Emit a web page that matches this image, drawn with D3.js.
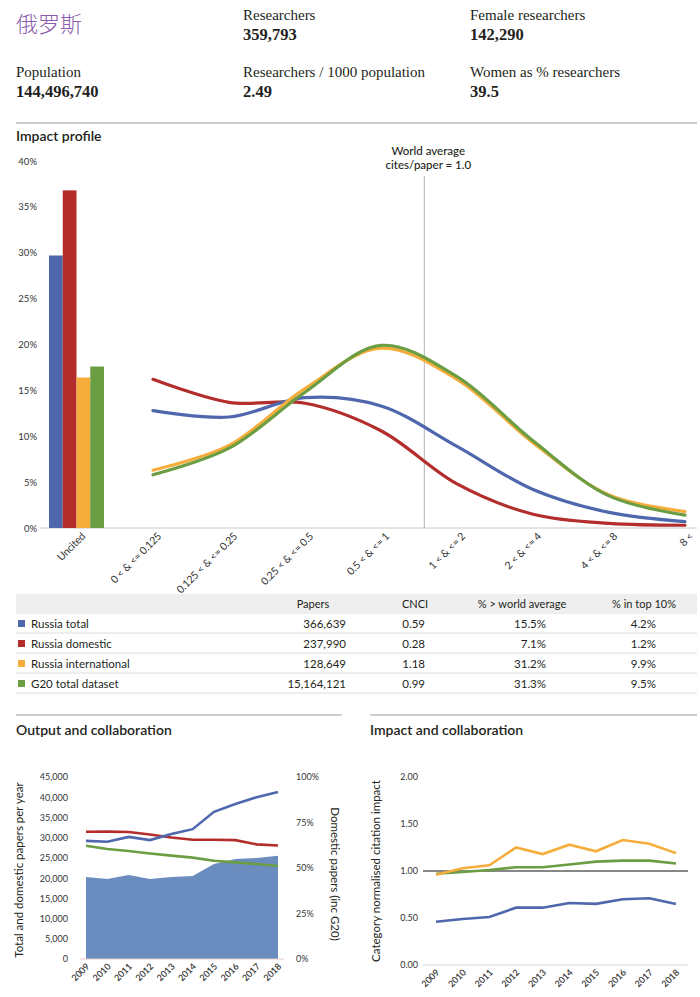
<!DOCTYPE html>
<html>
<head>
<meta charset="utf-8">
<script src="https://cdn.jsdelivr.net/npm/d3@7"></script>
<style>
  body { margin: 0; background: #fff; }
  svg text { font-family: Lato, "Open Sans", sans-serif; fill: #231f20; }
  .serif { font-family: "Liberation Serif", "Times New Roman", serif; }
</style>
</head>
<body>
<div id="chart"></div>
<script>
// header facts
const country = '俄罗斯'
const facts = [
  ['Researchers', '359,793'], ['Female researchers', '142,290'],
  ['Population', '144,496,740'], ['Researchers / 1000 population', '2.49'], ['Women as % researchers', '39.5']
]

const seriesNames = ['Russia total', 'Russia domestic', 'Russia international', 'G20 total dataset']
const colors = ['#4f67ad', '#b22d2b', '#f6ad3b', '#6b9d42']

// impact profile (% of papers per CNCI band)
const impactCats = ['Uncited', '0 < & <= 0.125', '0.125 < & <= 0.25', '0.25 < & <= 0.5', '0.5 < & <= 1',
  '1 < & <= 2', '2 < & <= 4', '4 < & <= 8', '8 <']
const uncited = [29.7, 36.8, 16.4, 17.6]
const profileTotal = [12.8, 12.1, 14.2, 13.3, 8.9, 4.2, 1.7, 0.7]
const profileDomestic = [16.2, 13.7, 13.6, 10.6, 4.8, 1.5, 0.5, 0.3]
const profileIntl = [6.3, 9.0, 15.2, 19.6, 16.2, 9.3, 3.6, 1.8]
const profileG20 = [5.8, 8.7, 14.8, 19.9, 16.5, 9.5, 3.5, 1.4]
const profileTicks = [0, 5, 10, 15, 20, 25, 30, 35, 40]

// summary table
const tableHead = ['Papers', 'CNCI', '% > world average', '% in top 10%']
const papers = ['366,639', '237,990', '128,649', '15,164,121']
const cnci = ['0.59', '0.28', '1.18', '0.99']
const aboveWorld = ['15.5%', '7.1%', '31.2%', '31.3%']
const top10 = ['4.2%', '1.2%', '9.9%', '9.5%']

// output and collaboration
const years = [2009, 2010, 2011, 2012, 2013, 2014, 2015, 2016, 2017, 2018]
const totalPapers = [29200, 29000, 30200, 29400, 30900, 32100, 36400, 38300, 40000, 41300]
const domesticPapers = [20300, 19800, 20800, 19800, 20300, 20500, 23500, 24700, 25000, 25500]
const domesticShare = [0.699, 0.700, 0.698, 0.684, 0.668, 0.655, 0.655, 0.653, 0.630, 0.624]
const g20DomesticShare = [0.622, 0.604, 0.593, 0.580, 0.568, 0.557, 0.540, 0.531, 0.522, 0.511]

// impact and collaboration (CNCI by year)
const cnciTotal = [0.46, 0.49, 0.51, 0.61, 0.61, 0.66, 0.65, 0.70, 0.71, 0.65]
const cnciIntl = [0.96, 1.03, 1.06, 1.25, 1.18, 1.28, 1.21, 1.33, 1.29, 1.19]
const cnciG20 = [0.97, 0.99, 1.01, 1.04, 1.04, 1.07, 1.10, 1.11, 1.11, 1.08]

const svg = d3.select('#chart').append('svg')
  .attr('width', 700)
  .attr('height', 997)

// ---------- header ----------
svg.append('text')
  .attr('x', 16).attr('y', 32)
  .style('font-family', '"Noto Sans CJK SC", sans-serif')
  .style('font-size', '22px')
  .style('font-weight', 300)
  .style('fill', '#8a5cab')
  .text(country)

const factPos = [[243, 20], [470, 20], [16, 77], [243, 77], [470, 77]]
facts.forEach((f, i) => {
  let g = svg.append('g').attr('transform', `translate(${factPos[i][0]},${factPos[i][1]})`)
  g.append('text').attr('class', 'serif').style('font-size', '15px').text(f[0])
  g.append('text').attr('class', 'serif').attr('y', 20)
    .style('font-size', '16.5px').style('font-weight', 'bold').text(f[1])
})

svg.append('line')
  .attr('x1', 16).attr('x2', 697).attr('y1', 123).attr('y2', 123)
  .attr('stroke', '#9a9a9a').attr('stroke-width', 1.2)

svg.append('text')
  .attr('x', 16).attr('y', 141)
  .style('font-size', '14px').style('font-weight', 600)
  .text('Impact profile')

// ---------- impact profile ----------
const x = d3.scalePoint().domain(impactCats).range([77, 685])
const y = d3.scaleLinear().domain([0, 40]).range([528, 161])
const step = x.step()

const yAxis = svg.append('g')
  .attr('transform', 'translate(37,0)')
  .call(d3.axisLeft(y).tickValues(profileTicks).tickSize(0).tickFormat(d => d + '%'))
yAxis.select('.domain').remove()
yAxis.selectAll('text').attr('x', 0).style('font-size', '9.5px').style('fill', '#333')

svg.append('line')
  .attr('x1', 40).attr('x2', 697).attr('y1', y(0)).attr('y2', y(0))
  .attr('stroke', '#c8c8c8')

// world average marker between 0.5-1 and 1-2 bands
const worldX = x('0.5 < & <= 1') + step * 0.57
svg.append('line')
  .attr('x1', worldX).attr('x2', worldX).attr('y1', 176).attr('y2', y(0))
  .attr('stroke', '#b5b5b5')
svg.append('text')
  .attr('x', worldX + 4).attr('y', 155)
  .attr('text-anchor', 'middle')
  .style('font-size', '11.5px').style('font-weight', 500)
  .text('World average')
svg.append('text')
  .attr('x', worldX + 4).attr('y', 169)
  .attr('text-anchor', 'middle')
  .style('font-size', '11.5px').style('font-weight', 500)
  .text('cites/paper = 1.0')

const barBand = d3.scaleBand().domain(seriesNames).range([-28, 27])
svg.append('g')
  .selectAll('rect')
  .data(uncited)
  .enter()
  .append('rect')
  .attr('x', (d, i) => x('Uncited') + barBand(seriesNames[i]))
  .attr('width', barBand.bandwidth())
  .attr('y', d => y(d))
  .attr('height', d => y(0) - y(d))
  .attr('fill', (d, i) => colors[i])

const lineCats = impactCats.slice(1)
const profileLine = d3.line()
  .x((d, i) => x(lineCats[i]))
  .y(d => y(d))
  .curve(d3.curveCatmullRom.alpha(0.5))

const profiles = [profileTotal, profileDomestic, profileIntl, profileG20]
;[1, 0, 2, 3].forEach(i => {
  svg.append('path')
    .attr('d', profileLine(profiles[i]))
    .attr('fill', 'none')
    .attr('stroke', colors[i])
    .attr('stroke-width', 3.2)
    .attr('stroke-linecap', 'round')
})

svg.append('g')
  .selectAll('text')
  .data(impactCats)
  .enter()
  .append('text')
  .attr('transform', d => `translate(${x(d) + 9},${y(0) + 9}) rotate(-45)`)
  .attr('text-anchor', 'end')
  .style('font-size', '10.5px')
  .style('letter-spacing', '-0.2px')
  .style('fill', '#333')
  .text(d => d)

// ---------- table ----------
const tableTop = 594
const rowH = 20
svg.append('rect')
  .attr('x', 16).attr('y', tableTop).attr('width', 681).attr('height', rowH)
  .attr('fill', '#efefef')

const colRight = [346, 425, 546, 656]
const colHeadX = [313, 415, 522, 644]
tableHead.forEach((h, i) => {
  svg.append('text')
    .attr('x', colHeadX[i]).attr('y', tableTop + 14)
    .attr('text-anchor', 'middle')
    .style('font-size', '11px')
    .text(h)
})

const tableCols = [papers, cnci, aboveWorld, top10]
seriesNames.forEach((s, r) => {
  let ry = tableTop + rowH * (r + 1)
  svg.append('line')
    .attr('x1', 16).attr('x2', 697).attr('y1', ry + rowH - 1).attr('y2', ry + rowH - 1)
    .attr('stroke', '#dcdcdc')
  svg.append('rect')
    .attr('x', 18).attr('y', ry + 6).attr('width', 7).attr('height', 7)
    .attr('fill', colors[r])
  svg.append('text')
    .attr('x', 31).attr('y', ry + 14)
    .style('font-size', '11.5px')
    .text(s)
  tableCols.forEach((col, c) => {
    svg.append('text')
      .attr('x', colRight[c]).attr('y', ry + 14)
      .attr('text-anchor', 'end')
      .style('font-size', '11.5px')
      .text(col[r])
  })
})

// ---------- section titles ----------
;[[16, 342, 'Output and collaboration'], [370, 697, 'Impact and collaboration']].forEach(t => {
  svg.append('line')
    .attr('x1', t[0]).attr('x2', t[1]).attr('y1', 715).attr('y2', 715)
    .attr('stroke', '#9a9a9a').attr('stroke-width', 1.2)
  svg.append('text')
    .attr('x', t[0]).attr('y', 735)
    .style('font-size', '14px').style('font-weight', 600)
    .text(t[2])
})

const yearLabels = (g, xs, y0) => {
  g.selectAll('text')
    .data(years)
    .enter()
    .append('text')
    .attr('transform', d => `translate(${xs(d) + 4},${y0 + 8}) rotate(-45)`)
    .attr('text-anchor', 'end')
    .style('font-size', '9px')
    .style('font-weight', 600)
    .style('fill', '#333')
    .text(d => d)
}

// ---------- output and collaboration ----------
const xo = d3.scalePoint().domain(years).range([86, 278])
const yo = d3.scaleLinear().domain([0, 45000]).range([959, 777])
const yr = d3.scaleLinear().domain([0, 1]).range([959, 777])

svg.append('path')
  .datum(domesticPapers)
  .attr('d', d3.area().x((d, i) => xo(years[i])).y0(yo(0)).y1(d => yo(d)))
  .attr('fill', '#6b8cbe')

svg.append('line')
  .attr('x1', 80).attr('x2', 284).attr('y1', yo(0)).attr('y2', yo(0))
  .attr('stroke', '#e3c9c6')

const yoAxis = svg.append('g')
  .attr('transform', 'translate(68,0)')
  .call(d3.axisLeft(yo).ticks(9).tickSize(0).tickFormat(d3.format(',')))
yoAxis.select('.domain').remove()
yoAxis.selectAll('text').attr('x', 0).style('font-size', '9px').style('fill', '#333')

const yrAxis = svg.append('g')
  .attr('transform', 'translate(296,0)')
  .call(d3.axisRight(yr).tickValues([0, 0.25, 0.5, 0.75, 1]).tickSize(0).tickFormat(d3.format('.0%')))
yrAxis.select('.domain').remove()
yrAxis.selectAll('text').attr('x', 0).style('font-size', '9px').style('fill', '#333')

const outLines = [
  [domesticShare, yr, colors[1]],
  [g20DomesticShare, yr, colors[3]],
  [totalPapers, yo, colors[0]]
]
outLines.forEach(l => {
  svg.append('path')
    .attr('d', d3.line().x((d, i) => xo(years[i])).y(d => l[1](d))(l[0]))
    .attr('fill', 'none')
    .attr('stroke', l[2])
    .attr('stroke-width', 2.6)
})

yearLabels(svg.append('g'), xo, yo(0))

svg.append('text')
  .attr('transform', `translate(23,${(yo(0) + yo(45000)) / 2 + 2}) rotate(-90)`)
  .attr('text-anchor', 'middle')
  .style('font-size', '11.5px')
  .text('Total and domestic papers per year')

svg.append('text')
  .attr('transform', `translate(331,${(yo(0) + yo(45000)) / 2 + 6}) rotate(90)`)
  .attr('text-anchor', 'middle')
  .style('font-size', '11.5px')
  .text('Domestic papers (inc G20)')

// ---------- impact and collaboration ----------
const xi = d3.scalePoint().domain(years).range([436, 676])
const yi = d3.scaleLinear().domain([0, 2]).range([965, 777])

svg.append('line')
  .attr('x1', 423).attr('x2', 688).attr('y1', yi(0)).attr('y2', yi(0))
  .attr('stroke', '#d6d6d6')
svg.append('line')
  .attr('x1', 423).attr('x2', 688).attr('y1', yi(1)).attr('y2', yi(1))
  .attr('stroke', '#111').attr('stroke-width', 1.2)

const yiAxis = svg.append('g')
  .attr('transform', 'translate(418,0)')
  .call(d3.axisLeft(yi).tickValues([0, 0.5, 1, 1.5, 2]).tickSize(0).tickFormat(d3.format('.2f')))
yiAxis.select('.domain').remove()
yiAxis.selectAll('text').attr('x', 0).style('font-size', '9px').style('fill', '#333')

const impLines = [[cnciTotal, colors[0]], [cnciG20, colors[3]], [cnciIntl, colors[2]]]
impLines.forEach(l => {
  svg.append('path')
    .attr('d', d3.line().x((d, i) => xi(years[i])).y(d => yi(d))(l[0]))
    .attr('fill', 'none')
    .attr('stroke', l[1])
    .attr('stroke-width', 2.6)
})

yearLabels(svg.append('g'), xi, yi(0))

svg.append('text')
  .attr('transform', `translate(380,${(yi(0) + yi(2)) / 2}) rotate(-90)`)
  .attr('text-anchor', 'middle')
  .style('font-size', '11.5px')
  .text('Category normalised citation impact')
</script>
</body>
</html>
